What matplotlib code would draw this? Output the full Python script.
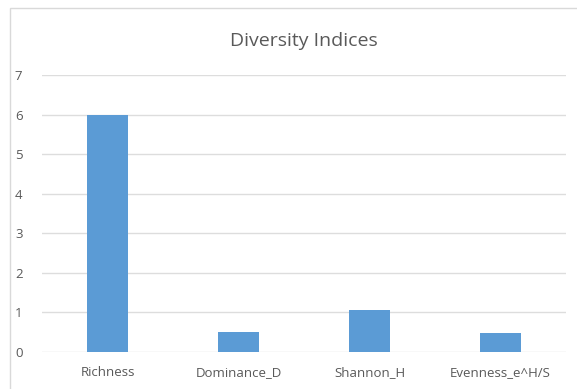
import matplotlib
matplotlib.use("Agg")
import matplotlib.pyplot as plt
from matplotlib.patches import Rectangle

categories = ["Richness", "Dominance_D", "Shannon_H", "Evenness_e^H/S"]
values = [6.0, 0.51, 1.05, 0.47]
yticks = [0, 1, 2, 3, 4, 5, 6, 7]

W, H = 577, 389
fig = plt.figure(figsize=(W / 100, H / 100), dpi=100)
fig.patch.set_facecolor("white")
plt.rcParams['font.family'] = ['Open Sans', 'DejaVu Sans']

# chart frame border
fig.patches.append(Rectangle((10 / W, -0.1), 1.2, (H - 8) / H + 0.1, transform=fig.transFigure,
                             fill=False, edgecolor="#D9D9D9", linewidth=1.0))

ax = fig.add_axes([42 / W, 37 / H, (566 - 42) / W, (352 - 75) / H])
x = list(range(len(categories)))
ax.bar(x, values, width=0.31, color="#5B9BD5", zorder=3)
ax.set_xlim(-0.5, len(categories) - 0.5)
ax.set_ylim(0, 7)
ax.set_yticks(yticks)
ax.set_yticklabels([str(t) for t in yticks])
ax.set_xticks(x)
ax.set_xticklabels(categories)
ax.grid(axis="y", color="#DDDDDD", linewidth=1.0, zorder=0)
for s in ax.spines.values():
    s.set_visible(False)
ax.tick_params(axis="both", length=0, colors="#595959", labelsize=9.5)
ax.tick_params(axis="y", pad=14)
ax.tick_params(axis="x", pad=10)

fig.text(0.5 * (42 + 566) / W, 1 - 41 / H, "Diversity Indices", ha="center", va="center",
         fontsize=14, color="#595959")

fig.savefig("out.png", dpi=100)
